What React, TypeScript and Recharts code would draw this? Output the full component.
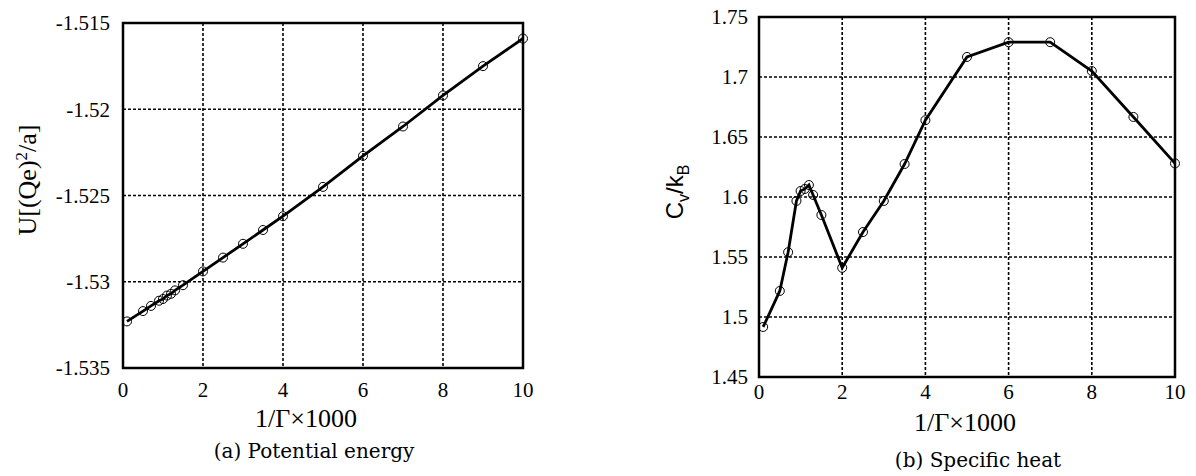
import { LineChart, Line, XAxis, YAxis, CartesianGrid, ReferenceArea } from "recharts";

// 1/Γ × 1000 sample points (same for both panels)
const invGamma = [0.1, 0.5, 0.7, 0.9, 1.0, 1.1, 1.2, 1.3, 1.5, 2, 2.5, 3, 3.5, 4, 5, 6, 7, 8, 9, 10];

// (a) potential energy U[(Qe)^2/a]
const energy = [
  -1.5323, -1.5317, -1.5314, -1.5311, -1.531, -1.5308, -1.5307, -1.5305, -1.5302, -1.5294,
  -1.5286, -1.5278, -1.527, -1.5262, -1.5245, -1.5227, -1.521, -1.5192, -1.5175, -1.5159,
];

// (b) specific heat Cv/kB
const heat = [
  1.4917, 1.5217, 1.554, 1.5967, 1.605, 1.6067, 1.61, 1.6017, 1.585, 1.541,
  1.5708, 1.5967, 1.6275, 1.664, 1.7167, 1.729, 1.729, 1.705, 1.6667, 1.628,
];

const xTicks = [0, 2, 4, 6, 8, 10];
const energyTicks = [-1.535, -1.53, -1.525, -1.52, -1.515];
const heatTicks = [1.45, 1.5, 1.55, 1.6, 1.65, 1.7, 1.75];

const energyData = invGamma.map((x, i) => ({ x, y: energy[i] }));
const heatData = invGamma.map((x, i) => ({ x, y: heat[i] }));

const serif = "Liberation Serif, Times New Roman, serif";
const tickStyle = { fontFamily: serif, fontSize: 21, fill: "#000" };
const dot = { r: 4.5, stroke: "#000", strokeWidth: 1, fill: "none" };

const text = (left: number, top: number, size: number, extra: any = {}) => ({
  position: "absolute" as const,
  left,
  top,
  transform: "translate(-50%, -50%)",
  fontFamily: serif,
  fontSize: size,
  lineHeight: 1,
  whiteSpace: "nowrap" as const,
  color: "#000",
  ...extra,
});

// captions are LaTeX-ish, a wider serif fits them better
const caption = { fontFamily: "DejaVu Serif, serif" };

export default function App() {
  return (
    <div style={{ position: "absolute", left: 0, top: 0, width: 1196, height: 476, background: "#fff", overflow: "hidden" }}>
      <div style={{ position: "absolute", left: 0, top: 0 }}>
        <LineChart width={560} height={476} data={energyData} margin={{ top: 23, right: 37, bottom: 0, left: 0 }}>
          <CartesianGrid stroke="#000" strokeWidth={1.6} strokeDasharray="3 2" />
          <XAxis dataKey="x" type="number" domain={[0, 10]} ticks={xTicks} height={108} tickLine={false} axisLine={false} tickMargin={8} tick={tickStyle} />
          <YAxis type="number" domain={[-1.535, -1.515]} ticks={energyTicks} width={123} tickLine={false} axisLine={false} tickMargin={7} tick={tickStyle} allowDataOverflow />
          <ReferenceArea x1={0} x2={10} y1={-1.535} y2={-1.515} fill="none" stroke="#000" strokeWidth={2.5} />
          <Line type="linear" dataKey="y" stroke="#000" strokeWidth={2.8} dot={dot} isAnimationActive={false} />
        </LineChart>
      </div>
      <div style={{ position: "absolute", left: 600, top: 0 }}>
        <LineChart width={596} height={476} data={heatData} margin={{ top: 17, right: 21, bottom: 0, left: 0 }}>
          <CartesianGrid stroke="#000" strokeWidth={1.6} strokeDasharray="3 2" />
          <XAxis dataKey="x" type="number" domain={[0, 10]} ticks={xTicks} height={99} tickLine={false} axisLine={false} tickMargin={1} tick={tickStyle} />
          <YAxis type="number" domain={[1.45, 1.75]} ticks={heatTicks} width={159} tickLine={false} axisLine={false} tickMargin={5} tick={tickStyle} allowDataOverflow />
          <ReferenceArea x1={0} x2={10} y1={1.45} y2={1.75} fill="none" stroke="#000" strokeWidth={2.5} />
          <Line type="linear" dataKey="y" stroke="#000" strokeWidth={2.8} dot={dot} isAnimationActive={false} />
        </LineChart>
      </div>

      <div style={text(27, 180, 26, { transform: "translate(-50%, -50%) rotate(-90deg)" })}>
        U[(Qe)<span style={{ fontSize: 17, verticalAlign: "super" }}>2</span>/a]
      </div>
      <div style={text(306, 419, 26)}>1/Γ×1000</div>
      <div style={text(314, 451, 20, caption)}>(a) Potential energy</div>

      <div style={text(675, 192, 24, { fontFamily: "Liberation Sans, Arial, sans-serif", transform: "translate(-50%, -50%) rotate(-90deg)" })}>
        C<span style={{ fontSize: 16, position: "relative", top: 6 }}>v</span>/k<span style={{ fontSize: 16, position: "relative", top: 6 }}>B</span>
      </div>
      <div style={text(965, 423, 26)}>1/Γ×1000</div>
      <div style={text(978, 460, 20, caption)}>(b) Specific heat</div>
    </div>
  );
}
